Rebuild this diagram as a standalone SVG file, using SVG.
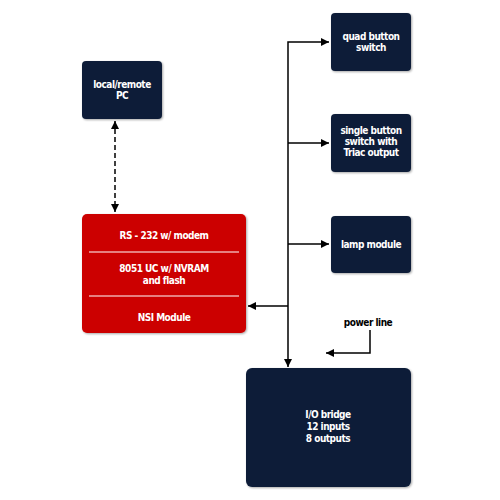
<svg xmlns="http://www.w3.org/2000/svg" width="500" height="500" viewBox="0 0 500 500">
<defs>
<style>
.navy{fill:#0a1d38;}
.red{fill:#cc0000;}
.t{font-family:"DejaVu Sans Condensed","DejaVu Sans",sans-serif;font-weight:bold;font-size:10px;fill:#ffffff;text-anchor:middle;letter-spacing:-0.5px;}
.tb{font-family:"DejaVu Sans Condensed","DejaVu Sans",sans-serif;font-weight:bold;font-size:10px;fill:#000000;text-anchor:middle;letter-spacing:-0.5px;}
.ln{stroke:#000;stroke-width:1.5;fill:none;}
.sep{stroke:#ffffff;stroke-width:1.2;}
</style>
<filter id="sh" x="-10%" y="-10%" width="120%" height="120%">
<feGaussianBlur in="SourceAlpha" stdDeviation="1"/>
<feOffset dx="1" dy="1"/>
<feComponentTransfer><feFuncA type="linear" slope="0.35"/></feComponentTransfer>
<feMerge><feMergeNode/><feMergeNode in="SourceGraphic"/></feMerge>
</filter>
<marker id="ah" viewBox="0 0 10 10" refX="10" refY="5" markerWidth="8" markerHeight="8" markerUnits="userSpaceOnUse" orient="auto-start-reverse">
<path d="M0,0 L10,5 L0,10 Z" fill="#000"/>
</marker>
</defs>
<g id="connectors">
<line class="ln" x1="115" y1="121" x2="115" y2="212" stroke-dasharray="5,3" marker-start="url(#ah)" marker-end="url(#ah)"/>
<polyline class="ln" points="288,366 288,42 329,42" marker-end="url(#ah)"/>
<line class="ln" x1="288" y1="366" x2="288" y2="367" marker-end="url(#ah)"/>
<line class="ln" x1="288" y1="143" x2="329" y2="143" marker-end="url(#ah)"/>
<line class="ln" x1="288" y1="244" x2="329" y2="244" marker-end="url(#ah)"/>
<line class="ln" x1="288" y1="306" x2="248" y2="306" marker-end="url(#ah)"/>
<polyline class="ln" points="370,330 370,353 326,353" marker-end="url(#ah)"/>
</g>
<g id="pc">
<rect class="navy" x="82" y="61" width="80" height="58" rx="4" filter="url(#sh)"/>
<text class="t" x="122" y="88">local/remote</text>
<text class="t" x="122" y="99">PC</text>
</g>
<g id="nsi">
<rect class="red" x="82" y="214" width="164" height="119" rx="5" filter="url(#sh)"/>
<line class="sep" x1="89" y1="252" x2="239" y2="252"/>
<line class="sep" x1="89" y1="296" x2="239" y2="296"/>
<text class="t" x="164" y="239">RS - 232 w/ modem</text>
<text class="t" x="164" y="272">8051 UC w/ NVRAM</text>
<text class="t" x="164" y="284">and flash</text>
<text class="t" x="164" y="321">NSI Module</text>
</g>
<g id="quad">
<rect class="navy" x="331" y="13" width="80" height="58" rx="4" filter="url(#sh)"/>
<text class="t" x="371" y="40">quad button</text>
<text class="t" x="371" y="51">switch</text>
</g>
<g id="single">
<rect class="navy" x="331" y="114" width="80" height="58" rx="4" filter="url(#sh)"/>
<text class="t" x="371" y="134">single button</text>
<text class="t" x="371" y="145">switch with</text>
<text class="t" x="371" y="156">Triac output</text>
</g>
<g id="lamp">
<rect class="navy" x="331" y="216" width="80" height="57" rx="4" filter="url(#sh)"/>
<text class="t" x="371" y="248">lamp module</text>
</g>
<g id="io">
<rect class="navy" x="246" y="368" width="165" height="119" rx="6" filter="url(#sh)"/>
<text class="t" x="328" y="418">I/O bridge</text>
<text class="t" x="328" y="430">12 inputs</text>
<text class="t" x="328" y="442">8 outputs</text>
</g>
<g id="power">
<text class="tb" x="368" y="326">power line</text>
</g>
</svg>
